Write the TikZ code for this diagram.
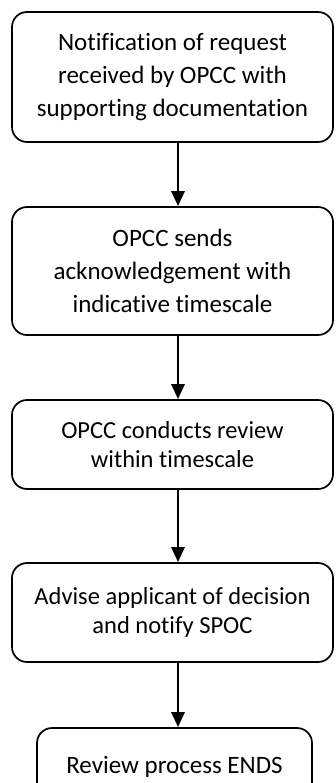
\documentclass[tikz,border=0pt]{standalone}
\usepackage{fontspec}
\setmainfont{Carlito}[Ligatures=NoCommon]
\usetikzlibrary{arrows.meta}
\begin{document}
\begin{tikzpicture}[x=1pt,y=1pt,
  box/.style={draw=black,line width=1.7pt,rounded corners=15pt,align=center,
    font=\fontsize{25}{33}\selectfont,inner sep=0pt},
  tight/.style={font=\fontsize{24.5}{29}\selectfont},
  arr/.style={line width=2.8pt,-{Triangle[width=13pt,length=15pt]}}]
\useasboundingbox (0,0) rectangle (335,-783);
\node[box,minimum width=321pt,minimum height=130pt] (b1) at (172.5,-77)
  {Notification of request\\received by OPCC with\\supporting documentation};
\node[box,minimum width=321pt,minimum height=128pt] (b2) at (172.5,-271)
  {OPCC sends\\acknowledgement with\\indicative timescale};
\node[box,tight,minimum width=321pt,minimum height=89pt] (b3) at (172.5,-444.5)
  {OPCC conducts review\\within timescale};
\node[box,tight,minimum width=321pt,minimum height=99pt] (b4) at (172.5,-612.5)
  {Advise applicant of decision\\and notify SPOC};
\node[box,minimum width=275pt,minimum height=78pt] (b5) at (174.5,-767)
  {Review process ENDS};
\draw[arr] ([xshift=5.5pt]b1.south) -- ([xshift=5.5pt]b2.north);
\draw[arr] ([xshift=5.5pt]b2.south) -- ([xshift=5.5pt]b3.north);
\draw[arr] ([xshift=5.5pt]b3.south) -- ([xshift=5.5pt]b4.north);
\draw[arr] ([xshift=5.5pt]b4.south) -- ([xshift=3.5pt]b5.north);
\end{tikzpicture}
\end{document}
